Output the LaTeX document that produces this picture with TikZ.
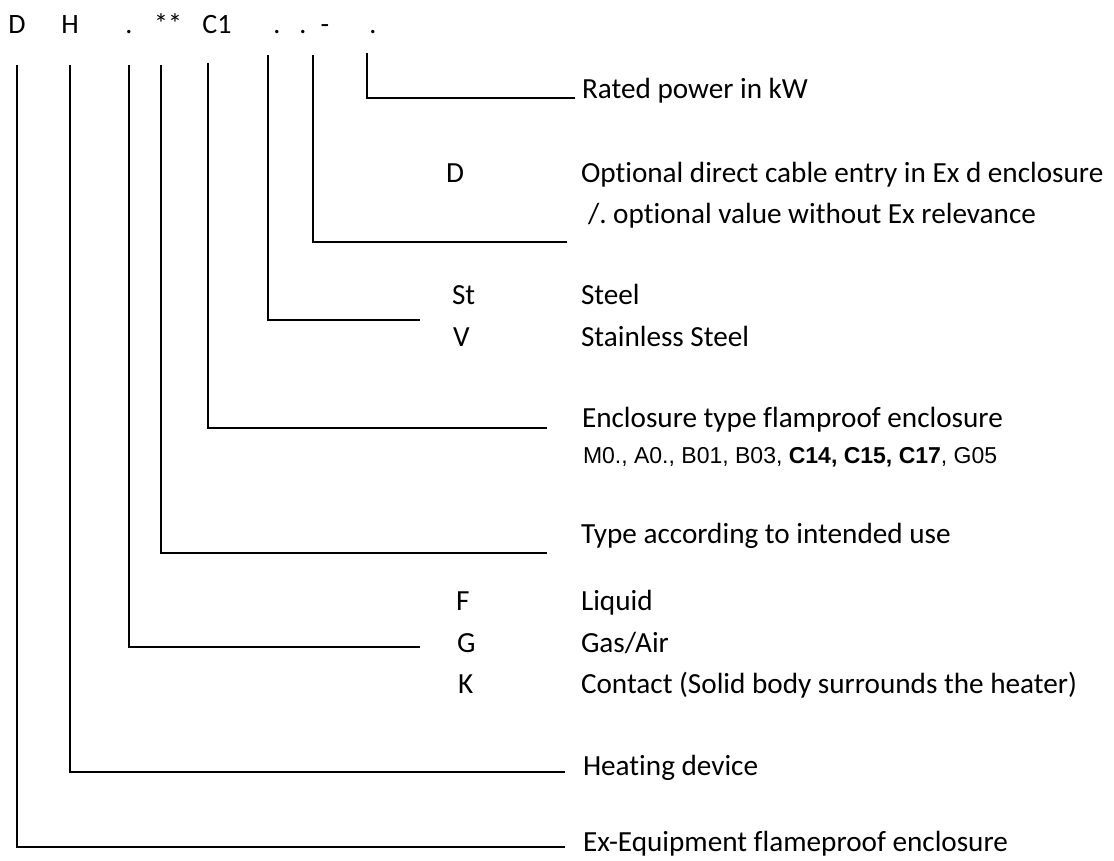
\documentclass[tikz,border=0pt]{standalone}
\usepackage{fontspec}
\setmainfont{Carlito}[Ligatures=NoCommon]
\newfontfamily\arialfont{Liberation Sans}
\usetikzlibrary{positioning}
\frenchspacing

\begin{document}
\begin{tikzpicture}[x=0.5pt, y=-0.5pt, line width=1pt,
		head/.style = {anchor=base, inner sep=0pt, font=\fontsize{14}{17}\selectfont},
		txt/.style = {anchor=base west, inner sep=0pt, font=\fontsize{14.6}{17}\selectfont},
		small/.style = {anchor=base west, inner sep=0pt, font=\arialfont\fontsize{11.5}{13}\selectfont}]
		\useasboundingbox (0,0) rectangle (1114,861);
		% type code
		\node[head] (hD) at (17,34) {D};
		\node[head] (hH) at (70,34) {H};
		\node[head] (hMedium) at (129,34) {.};
		\node[head] (hUse) at (168,34) {**};
		\node[head] (hEncl) at (217,34) {C1};
		\node[head] (hMat) at (277,34) {.};
		\node[head] (hOpt) at (303,34) {.};
		\node[head] (hDash) at (325,34) {-};
		\node[head] (hPow) at (373,34) {.};
		% explanations
		\node[txt] (lPow) at (581,99) {Rated power in kW};
		\node[txt] (cOpt) at (445,183) {D};
		\node[txt] (lOpt) at (580,183) {Optional direct cable entry in Ex d enclosure};
		\node[txt] (lOpt2) at (587,224) {/. optional value without Ex relevance};
		\node[txt] (cSt) at (451,305) {St};
		\node[txt] (lSt) at (580,305) {Steel};
		\node[txt] (cV) at (452,347) {V};
		\node[txt] (lV) at (580,347) {Stainless Steel};
		\node[txt] (lEncl) at (581,427) {Enclosure type flamproof enclosure};
		\node[small] (lEncl2) at (582,463) {M0., A0., B01, B03, \textbf{C14, C15, C17}, G05};
		\node[txt] (lUse) at (580,543) {Type according to intended use};
		\node[txt] (cF) at (455,610) {F};
		\node[txt] (lF) at (580,610) {Liquid};
		\node[txt] (cG) at (456,652) {G};
		\node[txt] (lG) at (580,652) {Gas/Air};
		\node[txt] (cK) at (457,693) {K};
		\node[txt] (lK) at (580,693) {Contact (Solid body surrounds the heater)};
		\node[txt] (lH) at (582,775) {Heating device};
		\node[txt] (lD) at (582,851) {Ex-Equipment flameproof enclosure};
		% line ends
		\coordinate (tPow) at (367,53);   \coordinate (ePow) at (575,98);
		\coordinate (tOpt) at (313,55);   \coordinate (eOpt) at (567,242);
		\coordinate (tMat) at (268,55);   \coordinate (eMat) at (420,320);
		\coordinate (tEncl) at (208,63);  \coordinate (eEncl) at (547,428);
		\coordinate (tUse) at (161,65);   \coordinate (eUse) at (547,553);
		\coordinate (tMedium) at (129,65); \coordinate (eMedium) at (420,647);
		\coordinate (tH) at (70,65);      \coordinate (eH) at (565,772);
		\coordinate (tD) at (17,65);      \coordinate (eD) at (565,847);
		\draw (tPow) |- (ePow);
		\draw (tOpt) |- (eOpt);
		\draw (tMat) |- (eMat);
		\draw (tEncl) |- (eEncl);
		\draw (tUse) |- (eUse);
		\draw (tMedium) |- (eMedium);
		\draw (tH) |- (eH);
		\draw (tD) |- (eD);
	\end{tikzpicture}
\end{document}
